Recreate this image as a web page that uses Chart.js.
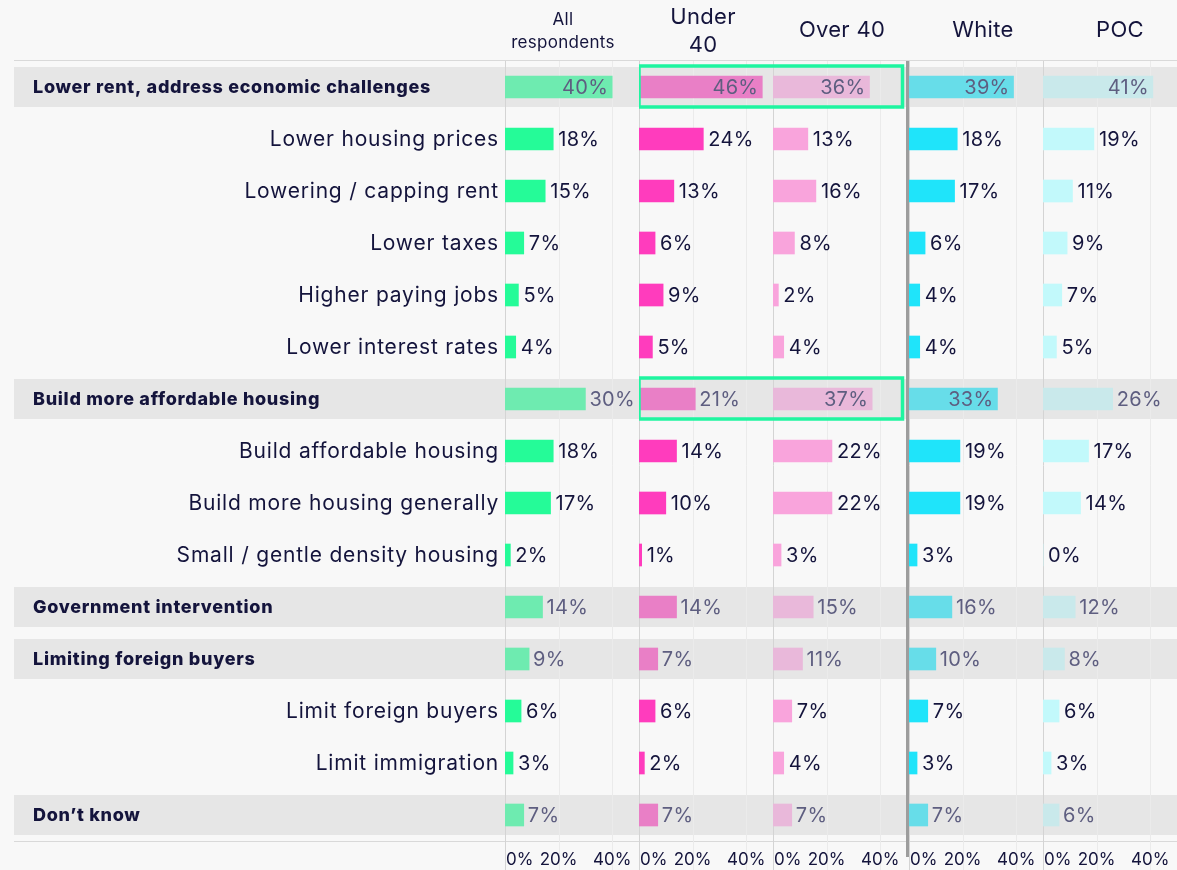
<!DOCTYPE html>
<html>
<head>
<meta charset="utf-8">
<script src="https://cdn.jsdelivr.net/npm/chart.js@4.4.1/dist/chart.umd.min.js"></script>
<style>
  body { margin: 0; background: #f8f8f8; font-family: "Inter", "Noto Sans", sans-serif; }
  #wrap { position: relative; width: 1177px; height: 870px; overflow: hidden; }
  .panel { position: absolute; top: 0; height: 870px; }
  .head { position: absolute; color: #14143c; text-align: center; line-height: 1.25; letter-spacing: 0.3px; }
  #divider { position: absolute; left: 906px; top: 61px; width: 3px; height: 796px; background: #9d9d9d; }
</style>
</head>
<body>
<div id="wrap">
  <div class="panel" style="left:0;width:639px"><canvas id="c0"></canvas></div>
  <div class="panel" style="left:639px;width:134px"><canvas id="c1"></canvas></div>
  <div class="panel" style="left:773px;width:136px"><canvas id="c2"></canvas></div>
  <div class="panel" style="left:909px;width:134px"><canvas id="c3"></canvas></div>
  <div class="panel" style="left:1043px;width:134px"><canvas id="c4"></canvas></div>
  <div id="divider"></div>
  <div class="head" style="left:498px;width:130px;top:8px;font-size:17px;line-height:23px">All<br>respondents</div>
  <div class="head" style="left:643px;width:120px;top:2px;font-size:22px;line-height:28px">Under<br>40</div>
  <div class="head" style="left:772px;width:140px;top:16px;font-size:22px">Over 40</div>
  <div class="head" style="left:923px;width:120px;top:16px;font-size:22px">White</div>
  <div class="head" style="left:1060px;width:120px;top:16px;font-size:22px">POC</div>
</div>
<script>
// rows of the chart, top to bottom
const categories = [
  'Lower rent, address economic challenges',
  'Lower housing prices',
  'Lowering / capping rent',
  'Lower taxes',
  'Higher paying jobs',
  'Lower interest rates',
  'Build more affordable housing',
  'Build affordable housing',
  'Build more housing generally',
  'Small / gentle density housing',
  'Government intervention',
  'Limiting foreign buyers',
  'Limit foreign buyers',
  'Limit immigration',
  'Don\u2019t know'
];
// true = summary (grey band) row
const isGroup = [true, false, false, false, false, false, true, false, false, false, true, true, false, false, true];

const allRespondents = [40, 18, 15, 7, 5, 4, 30, 18, 17, 2, 14, 9, 6, 3, 7];
const under40 = [46, 24, 13, 6, 9, 5, 21, 14, 10, 1, 14, 7, 6, 2, 7];
const over40 = [36, 13, 16, 8, 2, 4, 37, 22, 22, 3, 15, 11, 7, 4, 7];
const white = [39, 18, 17, 6, 4, 4, 33, 19, 19, 3, 16, 10, 7, 3, 7];
const poc = [41, 19, 11, 9, 7, 5, 26, 17, 14, 0, 12, 8, 6, 3, 6];

const tickValues = [0, 20, 40];
const highlightRows = [0, 6];

const navy = '#14143c';
const font = '"Inter", "Noto Sans", sans-serif';

// Chart 0 gets the row labels, chart 1/2 carry the green highlight boxes
const panelPlugin = {
  id: 'panelPlugin',
  beforeDatasetsDraw(chart, args, o) {
    const ctx = chart.ctx;
    const xs = chart.scales.x, ys = chart.scales.y;
    const area = chart.chartArea;
    const bandLeft = o.first ? 14 : 0;
    ctx.save();
    // grey bands for summary rows
    ctx.fillStyle = '#e6e6e6';
    isGroup.forEach((g, i) => {
      if (!g) return;
      const y = ys.getPixelForValue(i);
      ctx.fillRect(bandLeft, y - 20, chart.width - bandLeft, 40);
    });
    // top & bottom rules
    ctx.fillStyle = '#d9d9d9';
    ctx.fillRect(bandLeft, area.top - 1, chart.width - bandLeft, 1);
    ctx.fillRect(bandLeft, area.bottom, chart.width - bandLeft, 1);
    // vertical grid
    [0, 20, 40].forEach(v => {
      const x = Math.round(xs.getPixelForValue(v)) + 0.5;
      ctx.strokeStyle = v === 0 ? '#d4d4d4' : '#ebebeb';
      ctx.lineWidth = 1;
      ctx.beginPath();
      ctx.moveTo(x, area.top);
      ctx.lineTo(x, chart.height);
      ctx.stroke();
    });
    ctx.restore();
  },
  afterDatasetsDraw(chart, args, o) {
    const ctx = chart.ctx;
    const xs = chart.scales.x, ys = chart.scales.y;
    const meta = chart.getDatasetMeta(0);
    const data = chart.data.datasets[0].data;
    ctx.save();
    ctx.textBaseline = 'middle';
    // value labels
    ctx.letterSpacing = '0.3px';
    meta.data.forEach((bar, i) => {
      const v = data[i];
      const txt = v + '%';
      ctx.font = '20px ' + font;
      if (isGroup[i]) {
        ctx.fillStyle = '#5e5e80';
        if (v >= 33) {
          ctx.textAlign = 'right';
          ctx.fillText(txt, bar.x - 4, bar.y + 1);
        } else {
          ctx.textAlign = 'left';
          ctx.fillText(txt, bar.x + 4, bar.y + 1);
        }
      } else {
        ctx.fillStyle = navy;
        ctx.textAlign = 'left';
        ctx.fillText(txt, bar.x + 5, bar.y + 1);
      }
    });
    // tick labels
    ctx.fillStyle = navy;
    ctx.font = '17px ' + font;
    ctx.letterSpacing = '0px';
    tickValues.forEach(v => {
      const x = xs.getPixelForValue(v);
      ctx.textAlign = v === 0 ? 'left' : 'center';
      ctx.fillText(v + '%', v === 0 ? x + 1 : x, 860);
    });
    // row labels
    if (o.first) {
      categories.forEach((c, i) => {
        const y = ys.getPixelForValue(i);
        ctx.fillStyle = navy;
        if (isGroup[i]) {
          ctx.font = '800 18px ' + font;
          ctx.letterSpacing = '0.7px';
          ctx.textAlign = 'left';
          ctx.fillText(c, 33, y + 1);
        } else {
          ctx.font = '21px ' + font;
          ctx.letterSpacing = '0.8px';
          ctx.textAlign = 'right';
          ctx.fillText(c, chart.chartArea.left - 6, y + 1);
        }
      });
    }
    // green highlight boxes
    if (o.box) {
      ctx.strokeStyle = '#1ff5a0';
      ctx.lineWidth = 3.5;
      highlightRows.forEach(i => {
        const y = ys.getPixelForValue(i);
        const top = y - 21, bot = y + 20;
        ctx.beginPath();
        if (o.box === 'left') {
          const x0 = chart.chartArea.left;
          ctx.moveTo(chart.width, top);
          ctx.lineTo(x0, top);
          ctx.lineTo(x0, bot);
          ctx.lineTo(chart.width, bot);
        } else {
          const x1 = chart.width - 6.5;
          ctx.moveTo(0, top);
          ctx.lineTo(x1, top);
          ctx.lineTo(x1, bot);
          ctx.lineTo(0, bot);
        }
        ctx.stroke();
      });
    }
    ctx.restore();
  }
};

function makePanel(id, values, bright, muted, opts) {
  new Chart(document.getElementById(id), {
    type: 'bar',
    data: {
      labels: categories,
      datasets: [{
        data: values,
        backgroundColor: values.map((v, i) => isGroup[i] ? muted : bright),
        barThickness: 22,
        borderWidth: 0
      }]
    },
    options: {
      indexAxis: 'y',
      responsive: true,
      maintainAspectRatio: false,
      animation: false,
      layout: { padding: { top: 61, bottom: 29, left: opts.left || 0, right: opts.right || 0 } },
      plugins: {
        legend: { display: false },
        tooltip: { enabled: false },
        panelPlugin: opts
      },
      scales: {
        x: { display: false, min: 0, max: 50 },
        y: { display: false }
      }
    },
    plugins: [panelPlugin]
  });
}

makePanel('c0', allRespondents, '#25fb98', '#6eebb0', { first: true, left: 505 });
makePanel('c1', under40, '#ff3cbd', '#e97fc6', { box: 'left' });
makePanel('c2', over40, '#f9a4dc', '#e9b8da', { box: 'right', right: 2 });
makePanel('c3', white, '#1fe4fa', '#67dde9', {});
makePanel('c4', poc, '#c2f9fb', '#c9e9eb', {});
</script>
</body>
</html>
